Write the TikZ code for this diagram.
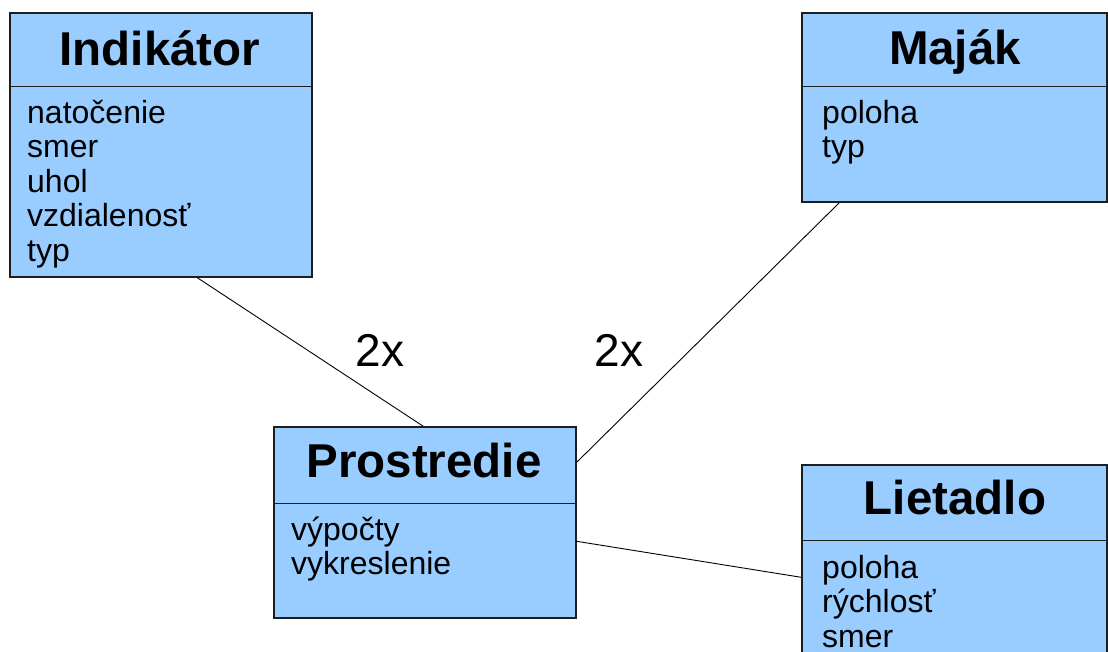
\documentclass[tikz,border=0pt]{standalone}
\usepackage{fontspec}
\setmainfont{Liberation Sans}
\definecolor{umlblue}{RGB}{153,204,255}
\definecolor{umlline}{RGB}{30,30,30}
\begin{document}
\begin{tikzpicture}[x=1pt,y=-1pt]
\tikzset{
  umlbox/.style={draw=umlline, line width=1.4pt, fill=umlblue, rectangle, inner sep=0pt},
  umldiv/.style={draw=umlline, line width=1.4pt},
  umltitle/.style={font=\fontsize{47.5}{52}\selectfont\bfseries, inner sep=0pt, anchor=base},
  umlattr/.style={font=\fontsize{32}{34.5}\selectfont, align=left, anchor=base west, inner sep=0pt},
  conn/.style={draw=black, line width=0.9pt},
  mult/.style={font=\fontsize{46}{50}\selectfont, inner sep=0pt}
}
\useasboundingbox (0,0) rectangle (1108,651);
\clip (0,0) rectangle (1108,651);
\fill[white] (0,0) rectangle (1108,651);

% Indikator
\node[umlbox, minimum width=302pt, minimum height=264pt] (ind) at (161,145) {};
\draw[umldiv] ([yshift=-74pt]ind.north west) -- ([yshift=-74pt]ind.north east);
\node[umltitle] (indT) at (160,65) {Indikátor};
% base anchor = baseline of the last line
\node[umlattr] (indA) at (27,261) {natočenie\\smer\\uhol\\vzdialenosť\\typ};

% Majak
\node[umlbox, minimum width=305pt, minimum height=189pt] (maj) at (954.5,107.5) {};
\draw[umldiv] ([yshift=-74pt]maj.north west) -- ([yshift=-74pt]maj.north east);
\node[umltitle] (majT) at (955,64) {Maják};
\node[umlattr] (majA) at (822,157.5) {poloha\\typ};

% Prostredie
\node[umlbox, minimum width=302pt, minimum height=191pt] (pro) at (425,522.5) {};
\draw[umldiv] ([yshift=-77pt]pro.north west) -- ([yshift=-77pt]pro.north east);
\node[umltitle] (proT) at (424,477) {Prostredie};
\node[umlattr] (proA) at (291,574.5) {výpočty\\vykreslenie};

% Lietadlo
\node[umlbox, minimum width=305pt, minimum height=230pt] (lie) at (954.5,580) {};
\draw[umldiv] ([yshift=-76pt]lie.north west) -- ([yshift=-76pt]lie.north east);
\node[umltitle] (lieT) at (955,514) {Lietadlo};
\node[umlattr] (lieA) at (822,647) {poloha\\rýchlosť\\smer};

% connectors
\draw[conn] ([xshift=188pt]ind.south west) -- ([xshift=150pt]pro.north west);
\draw[conn] ([xshift=38pt]maj.south west) -- ([yshift=-36pt]pro.north east);
\draw[conn] ([yshift=-115pt]pro.north east) -- ([yshift=-113pt]lie.north west);

% multiplicities
\node[mult] (m1) at (380,350) {2x};
\node[mult] (m2) at (619,350) {2x};
\end{tikzpicture}
\end{document}
